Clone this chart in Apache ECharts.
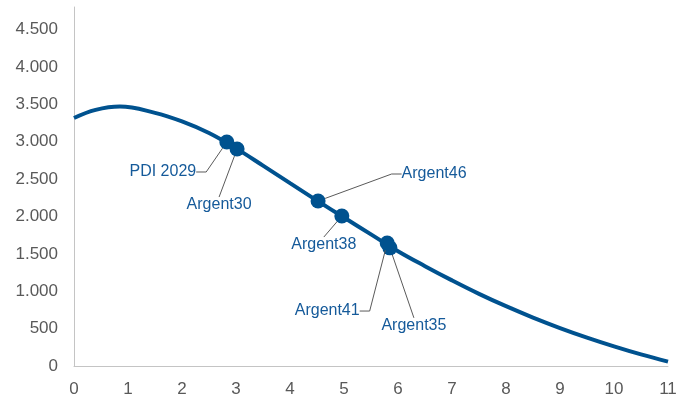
<!DOCTYPE html>
<html>
<head>
<meta charset="utf-8">
<script src="https://cdn.jsdelivr.net/npm/echarts@6/dist/echarts.min.js"></script>
<style>html,body{margin:0;padding:0;background:#fff}#c{width:690px;height:400px}</style>
</head>
<body>
<div id="c"></div>
<script>
// Curve (x, y)
const curveX = [0, 0.4, 0.85, 1.5, 2, 2.5, 3, 3.5, 4, 4.5, 5, 5.5, 6, 6.5, 7, 7.5, 8, 8.5, 9, 9.5, 10, 10.5, 11];
const curveY = [3316, 3425, 3470, 3385, 3270, 3115, 2910, 2680, 2445, 2212, 1985, 1760, 1535, 1335, 1145, 965, 800, 648, 508, 380, 263, 155, 58];
// Bonds
const bondNames = ['PDI 2029', 'Argent30', 'Argent46', 'Argent38', 'Argent41', 'Argent35'];
const bondX = [2.83, 3.02, 4.52, 4.96, 5.80, 5.85];
const bondY = [2995, 2901, 2206, 2005, 1644, 1580];
// Axis ticks
const xTicks = [0, 1, 2, 3, 4, 5, 6, 7, 8, 9, 10, 11];
const yTicks = [0, 500, 1000, 1500, 2000, 2500, 3000, 3500, 4000, 4500];

// label placement (layout only)
const labelOffsets = [[-64, 30], [-18, 56], [116, -27], [-18, 29], [-60, 68], [24, 78]];
const labelLen2 = [10, 0, 10, 0, 10, 0];

const BLUE = '#00528f';
const LBLUE = '#155a9a';
const FONT = '"Liberation Sans", Arial, sans-serif';

function fmt(v) {
  return String(v).replace(/\B(?=(\d{3})+(?!\d))/g, '.');
}

const chart = echarts.init(document.getElementById('c'), null, {renderer: 'canvas'});
chart.setOption({
  animation: false,
  backgroundColor: '#fff',
  grid: {left: 74, right: 22, top: 7, bottom: 34, containLabel: false},
  xAxis: {
    type: 'value', min: xTicks[0], max: xTicks[xTicks.length - 1], interval: 1,
    splitLine: {show: false},
    axisTick: {show: false},
    axisLine: {show: true, lineStyle: {color: '#c4c4c4', width: 1}},
    axisLabel: {color: '#595959', fontSize: 17, fontFamily: FONT, margin: 15}
  },
  yAxis: {
    type: 'value', min: 0, max: 4800, interval: 500,
    splitLine: {show: false},
    axisTick: {show: false},
    axisLine: {show: true, lineStyle: {color: '#c4c4c4', width: 1}},
    axisLabel: {
      color: '#595959', fontSize: 17, fontFamily: FONT, margin: 16,
      showMaxLabel: false,
      formatter: function (v) { return yTicks.indexOf(v) >= 0 ? fmt(v) : ''; }
    }
  },
  series: [
    {
      type: 'line',
      data: curveX.map((x, i) => [x, curveY[i]]),
      smooth: 0.4,
      showSymbol: false,
      lineStyle: {color: BLUE, width: 4},
      z: 2
    },
    {
      type: 'scatter',
      symbol: 'circle',
      symbolSize: 15,
      itemStyle: {color: BLUE, opacity: 1},
      z: 3,
      data: bondNames.map((n, i) => ({
        name: n,
        value: [bondX[i], bondY[i]],
        labelLine: {length2: labelLen2[i]}
      })),
      label: {
        show: true,
        position: 'inside',
        formatter: '{b}',
        color: LBLUE,
        fontSize: 16,
        fontFamily: FONT,
        padding: [0, 4]
      },
      labelLine: {
        show: true,
        showAbove: true,
        lineStyle: {color: '#5a5a5a', width: 1}
      },
      labelLayout: function (p) {
        const o = labelOffsets[p.dataIndex];
        return {dx: o[0], dy: o[1]};
      }
    }
  ]
});
</script>
</body>
</html>
